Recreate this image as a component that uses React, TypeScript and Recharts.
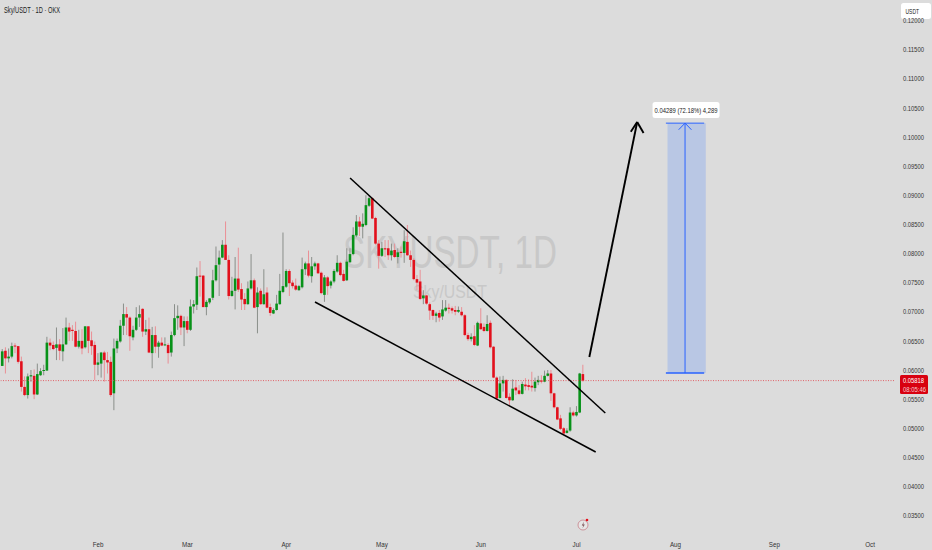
import {
  Bar,
  ComposedChart,
  ReferenceArea,
  ReferenceDot,
  ReferenceLine,
  XAxis,
  YAxis,
} from "recharts";

const opens = [
  0.0607, 0.0633, 0.062, 0.0623, 0.0642, 0.0641, 0.0615, 0.0571, 0.0557, 0.0589,
  0.059, 0.0558, 0.0591, 0.0599, 0.0599, 0.0647, 0.0643, 0.0638, 0.0644, 0.0632,
  0.0644, 0.0673, 0.0669, 0.0667, 0.064, 0.065, 0.0639, 0.0675, 0.0651, 0.0643,
  0.0609, 0.0611, 0.063, 0.0617, 0.0614, 0.056, 0.0637, 0.0649, 0.0676, 0.0696,
  0.069, 0.0656, 0.0669, 0.069, 0.0705, 0.0666, 0.067, 0.0629, 0.066, 0.064,
  0.0647, 0.0643, 0.0643, 0.063, 0.066, 0.0689, 0.0693, 0.0673, 0.0684, 0.0669,
  0.0709, 0.0712, 0.0762, 0.0762, 0.0708, 0.0716, 0.0724, 0.0754, 0.0781, 0.0793,
  0.0815, 0.0789, 0.0727, 0.0736, 0.0757, 0.0739, 0.0722, 0.0713, 0.074, 0.0754,
  0.0708, 0.0736, 0.0713, 0.0733, 0.0708, 0.0697, 0.0703, 0.0713, 0.0734, 0.0743,
  0.077, 0.075, 0.0745, 0.0737, 0.0742, 0.0773, 0.0783, 0.0761, 0.0778, 0.0783,
  0.0767, 0.0729, 0.0759, 0.0745, 0.0752, 0.0769, 0.0784, 0.0765, 0.0754, 0.0785,
  0.0799, 0.0831, 0.0855, 0.0846, 0.0849, 0.0882, 0.0895, 0.0861, 0.0817, 0.0796,
  0.0809, 0.0809, 0.0797, 0.0806, 0.0794, 0.0803, 0.0801, 0.082, 0.0797, 0.0789,
  0.0756, 0.0752, 0.0723, 0.0728, 0.0713, 0.0703, 0.0693, 0.0698, 0.0692, 0.0702,
  0.0707, 0.0706, 0.0703, 0.07, 0.07, 0.0694, 0.066, 0.0653, 0.0658, 0.0642,
  0.068, 0.0674, 0.0667, 0.0681, 0.064, 0.0587, 0.0552, 0.0577, 0.0583, 0.0554,
  0.0548, 0.057, 0.0565, 0.0559, 0.0575, 0.0574, 0.0573, 0.0569, 0.0579, 0.0582,
  0.058, 0.059, 0.0594, 0.056, 0.0536, 0.0517, 0.05, 0.0492, 0.0496, 0.0527,
  0.0522, 0.0527, 0.0593,
];

const closes = [
  0.0632, 0.062, 0.0623, 0.0641, 0.0641, 0.0614, 0.0571, 0.0557, 0.0589, 0.0591,
  0.0558, 0.0593, 0.0598, 0.06, 0.0647, 0.0642, 0.0636, 0.0644, 0.0633, 0.0644,
  0.0673, 0.0666, 0.0667, 0.064, 0.065, 0.0637, 0.0675, 0.065, 0.0641, 0.0609,
  0.0613, 0.063, 0.0617, 0.0613, 0.0557, 0.0637, 0.065, 0.0676, 0.0696, 0.069,
  0.0658, 0.0669, 0.069, 0.0696, 0.0666, 0.067, 0.063, 0.066, 0.064, 0.0647,
  0.0642, 0.0644, 0.0629, 0.066, 0.0689, 0.0693, 0.0673, 0.0684, 0.0669, 0.0709,
  0.0713, 0.0761, 0.0761, 0.0708, 0.0717, 0.0723, 0.0754, 0.078, 0.0793, 0.0815,
  0.0789, 0.0727, 0.0736, 0.0757, 0.0738, 0.0721, 0.0713, 0.074, 0.0754, 0.0707,
  0.0733, 0.0713, 0.073, 0.0707, 0.0698, 0.0703, 0.0714, 0.0736, 0.0744, 0.077,
  0.0749, 0.0744, 0.0738, 0.0744, 0.0773, 0.0783, 0.0762, 0.0778, 0.0783, 0.0766,
  0.0732, 0.0759, 0.0744, 0.0752, 0.077, 0.0784, 0.0763, 0.0753, 0.0786, 0.0799,
  0.0832, 0.0855, 0.0846, 0.0851, 0.0883, 0.0895, 0.086, 0.0817, 0.0796, 0.0809,
  0.0807, 0.0797, 0.0805, 0.0794, 0.0802, 0.0801, 0.0821, 0.0797, 0.0789, 0.0756,
  0.075, 0.0722, 0.0728, 0.0714, 0.0702, 0.0693, 0.0697, 0.069, 0.0704, 0.0707,
  0.0705, 0.0702, 0.07, 0.0703, 0.0694, 0.066, 0.0653, 0.0657, 0.0643, 0.0681,
  0.067, 0.0667, 0.0679, 0.0639, 0.0587, 0.0551, 0.0577, 0.0583, 0.0552, 0.0548,
  0.0568, 0.0565, 0.0559, 0.0576, 0.0572, 0.0571, 0.057, 0.058, 0.0583, 0.058,
  0.059, 0.0594, 0.056, 0.0536, 0.0515, 0.0499, 0.0491, 0.0496, 0.0527, 0.0522,
  0.0528, 0.0594, 0.05818,
];

const highs = [
  0.0636, 0.0639, 0.0637, 0.0647, 0.0646, 0.0641, 0.0623, 0.0589, 0.0594, 0.06,
  0.0601, 0.0611, 0.0603, 0.0609, 0.0657, 0.0654, 0.0649, 0.0673, 0.0653, 0.0672,
  0.069, 0.0681, 0.0677, 0.0683, 0.0669, 0.067, 0.0675, 0.0675, 0.0666, 0.0649,
  0.0629, 0.0631, 0.0633, 0.0631, 0.0623, 0.0654, 0.0654, 0.0686, 0.0714, 0.0708,
  0.0692, 0.0676, 0.0708, 0.0711, 0.0706, 0.0686, 0.069, 0.0674, 0.0675, 0.065,
  0.0656, 0.0656, 0.0646, 0.0666, 0.0713, 0.0711, 0.0695, 0.0692, 0.0692, 0.0721,
  0.072, 0.0776, 0.0787, 0.0763, 0.072, 0.0723, 0.0772, 0.0812, 0.0805, 0.0823,
  0.0855, 0.0797, 0.076, 0.0794, 0.081, 0.0749, 0.0732, 0.0752, 0.0799, 0.0757,
  0.0742, 0.074, 0.0773, 0.0742, 0.0714, 0.0706, 0.0729, 0.0765, 0.0836, 0.0773,
  0.0773, 0.0754, 0.0757, 0.0746, 0.0793, 0.0786, 0.0805, 0.0794, 0.0786, 0.0784,
  0.0769, 0.0763, 0.0761, 0.0754, 0.0773, 0.0797, 0.0786, 0.0772, 0.0809, 0.0809,
  0.0845, 0.0866, 0.0863, 0.0869, 0.09, 0.09, 0.0896, 0.0863, 0.0823, 0.082,
  0.0823, 0.0823, 0.0817, 0.0817, 0.0809, 0.0812, 0.084, 0.0849, 0.0805, 0.0792,
  0.0763, 0.0772, 0.0737, 0.0729, 0.0716, 0.0704, 0.07, 0.0703, 0.072, 0.072,
  0.0714, 0.0709, 0.071, 0.0709, 0.0708, 0.0696, 0.0664, 0.0663, 0.0677, 0.0683,
  0.0706, 0.068, 0.0694, 0.0685, 0.0641, 0.0589, 0.0589, 0.059, 0.0584, 0.056,
  0.0584, 0.0583, 0.0574, 0.058, 0.0586, 0.0584, 0.0597, 0.0587, 0.059, 0.0591,
  0.0599, 0.06, 0.06, 0.0561, 0.0537, 0.0523, 0.0502, 0.05, 0.0536, 0.053,
  0.0538, 0.0595, 0.0609,
];

const lows = [
  0.0607, 0.0594, 0.0613, 0.062, 0.0629, 0.0611, 0.0563, 0.0555, 0.0551, 0.058,
  0.055, 0.0557, 0.059, 0.0591, 0.0599, 0.0634, 0.0634, 0.0617, 0.0617, 0.0615,
  0.0643, 0.065, 0.065, 0.0639, 0.0637, 0.0627, 0.0637, 0.0629, 0.0626, 0.0583,
  0.0591, 0.0587, 0.058, 0.0594, 0.0554, 0.0531, 0.0629, 0.0647, 0.066, 0.066,
  0.0633, 0.0651, 0.0667, 0.0674, 0.0657, 0.066, 0.0629, 0.0603, 0.0629, 0.0621,
  0.0641, 0.0641, 0.0611, 0.0623, 0.0658, 0.0669, 0.066, 0.0641, 0.0663, 0.0667,
  0.0697, 0.0703, 0.0726, 0.0708, 0.0694, 0.0713, 0.072, 0.0752, 0.0727, 0.0792,
  0.0789, 0.0721, 0.0726, 0.0704, 0.0734, 0.0703, 0.0703, 0.0712, 0.0738, 0.0706,
  0.0663, 0.0712, 0.0712, 0.0706, 0.0693, 0.0696, 0.0702, 0.0712, 0.0732, 0.0741,
  0.0727, 0.074, 0.0736, 0.0736, 0.074, 0.0763, 0.0759, 0.075, 0.0772, 0.0765,
  0.073, 0.0717, 0.0729, 0.074, 0.0749, 0.0767, 0.0761, 0.0752, 0.0753, 0.0784,
  0.0797, 0.0828, 0.083, 0.0826, 0.0847, 0.088, 0.0859, 0.0815, 0.0774, 0.0794,
  0.0794, 0.0789, 0.0788, 0.0792, 0.0783, 0.0793, 0.0784, 0.0796, 0.0777, 0.0754,
  0.0737, 0.072, 0.0713, 0.0712, 0.0686, 0.0686, 0.0682, 0.0683, 0.0686, 0.07,
  0.0697, 0.0697, 0.0694, 0.0698, 0.0692, 0.0658, 0.065, 0.0649, 0.0641, 0.0641,
  0.0669, 0.0665, 0.0666, 0.0637, 0.0586, 0.055, 0.0551, 0.0563, 0.0551, 0.054,
  0.0547, 0.0557, 0.0557, 0.0558, 0.0565, 0.0565, 0.0563, 0.0563, 0.0574, 0.0577,
  0.0579, 0.0589, 0.0547, 0.0534, 0.0514, 0.0497, 0.0488, 0.0491, 0.0494, 0.052,
  0.052, 0.0526, 0.058,
];

const totalDays = 280;
const monthDays = [30, 58, 89, 119, 150, 180, 211, 242, 272];
const monthNames = ["Feb", "Mar", "Apr", "May", "Jun", "Jul", "Aug", "Sep", "Oct"];
const priceTicks = [
  0.035, 0.04, 0.045, 0.05, 0.055, 0.06, 0.065, 0.07, 0.075, 0.08, 0.085, 0.09,
  0.095, 0.1, 0.105, 0.11, 0.115, 0.12,
];
const lastPrice = 0.05818;

// drawing tools, [day, price]
const upperTrend = [[109, 0.09296], [189, 0.05262]];
const lowerTrend = [[98, 0.07167], [186, 0.04592]];
const bigArrow = [[184, 0.06223], [199, 0.10258]];
const bigArrowLeft = [[197, 0.10091], [199, 0.10258]];
const bigArrowRight = [[201, 0.10069], [199, 0.10258]];
const targetDays = [209, 220];
const targetPrices = [0.05948, 0.10238];
const targetMid = 214;
const targetHeadLeft = [[212, 0.10125], [214, 0.10238]];
const targetHeadRight = [[216, 0.10125], [214, 0.10238]];
const targetLabel = "0.04289 (72.18%) 4,289";
const targetLabelPrice = 0.10464;

const GREEN = "#089219";
const RED = "#e2101c";
const FONT = "'Liberation Sans', sans-serif";

const table = Array.from({ length: totalDays }, (_, day) => ({
  day,
  open: opens[day],
  close: closes[day],
  high: highs[day],
  low: lows[day],
}));

function Candle(props: any) {
  const { x, y, width, height, payload } = props;
  if (payload.high === undefined || !height) return null;
  const perPrice = height / (payload.high - payload.low);
  const up = payload.close >= payload.open;
  const top = y + (payload.high - Math.max(payload.open, payload.close)) * perPrice;
  const bodyH = Math.abs(payload.open - payload.close) * perPrice;
  const mid = x + width / 2;
  return (
    <g>
      <line
        x1={mid}
        x2={mid}
        y1={y}
        y2={y + height}
        stroke={up ? "#8a8f8a" : "#ea8f95"}
        strokeWidth={1}
      />
      <rect
        x={mid - 1.3}
        y={top}
        width={2.6}
        height={Math.max(bodyH, 1)}
        fill={up ? GREEN : RED}
      />
    </g>
  );
}

function segment(points: number[][]) {
  return points.map(([x, y]) => ({ x, y })) as any;
}

function PriceTick(props: any) {
  const { x, y, payload } = props;
  return (
    <text
      x={x}
      y={y + 2.7}
      fontSize={7.6}
      fontFamily={FONT}
      fill="#333"
      textLength={21}
      lengthAdjust="spacingAndGlyphs"
    >
      {payload.value.toFixed(5)}
    </text>
  );
}

function MonthTick(props: any) {
  const { x, y, payload } = props;
  return (
    <text
      transform={`translate(${x} ${y + 7}) scale(0.8 1)`}
      textAnchor="middle"
      fontSize={7.8}
      fontFamily={FONT}
      fill="#333"
    >
      {monthNames[monthDays.indexOf(payload.value)]}
    </text>
  );
}

function TargetLabel(props: any) {
  const { cx, cy } = props;
  return (
    <g>
      <rect x={cx - 32.5} y={cy - 8} width={67} height={16} rx={2.5} fill="#ffffff" />
      <text
        x={cx - 30.5}
        y={cy + 2.7}
        fontSize={7.6}
        fontFamily={FONT}
        fill="#222"
        textLength={63}
        lengthAdjust="spacingAndGlyphs"
      >
        {targetLabel}
      </text>
    </g>
  );
}

export default function App() {
  return (
    <div style={{ position: "absolute", left: 0, top: 0, width: 932, height: 550 }}>
      <ComposedChart
        width={932}
        height={550}
        data={table}
        margin={{ top: 0, right: 0, bottom: 0, left: 0.73 }}
        barCategoryGap={0}
        style={{ background: "#dcdcdc" }}
      >
        <text
          x={343}
          y={268}
          fontSize={46}
          fontFamily={FONT}
          fill="#c8c8c8"
          textLength={214}
          lengthAdjust="spacingAndGlyphs"
        >
          SKYUSDT, 1D
        </text>
        <text
          x={413}
          y={298}
          fontSize={19}
          fontFamily={FONT}
          fill="#c8c8c8"
          textLength={74}
          lengthAdjust="spacingAndGlyphs"
        >
          Sky/USDT
        </text>
        <XAxis
          dataKey="day"
          ticks={monthDays}
          interval={0}
          height={18}
          axisLine={false}
          tickLine={false}
          tick={MonthTick}
        />
        <YAxis
          orientation="right"
          width={38}
          domain={[0.03219, 0.12352]}
          allowDataOverflow
          ticks={priceTicks}
          interval={0}
          axisLine={false}
          tickLine={false}
          tickMargin={3}
          tick={PriceTick}
        />
        <ReferenceLine
          y={lastPrice}
          stroke="#e2404a"
          strokeWidth={0.8}
          strokeDasharray="1 1.5"
        />
        <Bar
          dataKey={(d: any) => (d.high === undefined ? undefined : [d.low, d.high])}
          barSize={3}
          shape={Candle}
          isAnimationActive={false}
        />
        <ReferenceArea
          x1={targetDays[0]}
          x2={targetDays[1]}
          y1={targetPrices[0]}
          y2={targetPrices[1]}
          fill="#b9c7e4"
          fillOpacity={1}
          stroke="none"
        />
        <ReferenceLine
          segment={segment([[targetDays[0] - 1, targetPrices[0]], [targetDays[1], targetPrices[0]]])}
          stroke="#2962ff"
          strokeWidth={1.6}
        />
        <ReferenceLine
          segment={segment([[targetDays[0] - 1, targetPrices[1]], [targetDays[1], targetPrices[1]]])}
          stroke="#2962ff"
          strokeWidth={1}
        />
        <ReferenceLine
          segment={segment([[targetMid, targetPrices[0]], [targetMid, targetPrices[1]]])}
          stroke="#2962ff"
          strokeWidth={1}
        />
        <ReferenceLine segment={segment(targetHeadLeft)} stroke="#2962ff" strokeWidth={1} />
        <ReferenceLine segment={segment(targetHeadRight)} stroke="#2962ff" strokeWidth={1} />
        <ReferenceLine segment={segment(upperTrend)} stroke="#000" strokeWidth={1.5} />
        <ReferenceLine segment={segment(lowerTrend)} stroke="#000" strokeWidth={1.5} />
        <ReferenceLine segment={segment(bigArrow)} stroke="#000" strokeWidth={1.9} />
        <ReferenceLine segment={segment(bigArrowLeft)} stroke="#000" strokeWidth={1.9} />
        <ReferenceLine segment={segment(bigArrowRight)} stroke="#000" strokeWidth={1.9} />
        <ReferenceDot x={targetMid} y={targetLabelPrice} shape={TargetLabel} />
        <rect x={901} y={3} width={30} height={16} rx={2.5} fill="#ffffff" />
        <text
          x={905.5}
          y={13.5}
          fontSize={7.6}
          fontFamily={FONT}
          fill="#222"
          textLength={13.5}
          lengthAdjust="spacingAndGlyphs"
        >
          USDT
        </text>
        <rect x={900} y={375} width={28} height={19} rx={1.5} fill="#d8000f" />
        <text
          x={903}
          y={383}
          fontSize={7.6}
          fontFamily={FONT}
          fill="#fff"
          textLength={21}
          lengthAdjust="spacingAndGlyphs"
        >
          0.05818
        </text>
        <text
          x={903}
          y={392}
          fontSize={7.4}
          fontFamily={FONT}
          fill="#f7c9cc"
          textLength={23}
          lengthAdjust="spacingAndGlyphs"
        >
          08:05:46
        </text>
        <text
          x={4}
          y={12.5}
          fontSize={8.2}
          fontFamily={FONT}
          fill="#222"
          textLength={56}
          lengthAdjust="spacingAndGlyphs"
        >
          Sky/USDT · 1D · OKX
        </text>
        <circle cx={583} cy={525} r={5} fill="#e6e6e6" stroke="#c77f88" strokeWidth={0.8} />
        <path d="M584 521.5 L581.8 525.4 L583.4 525.4 L582.4 528.5 L584.8 524.4 L583.2 524.4 Z" fill="#7a4a50" />
        <circle cx={587} cy={520} r={1.3} fill="#e2101c" />
      </ComposedChart>
    </div>
  );
}
